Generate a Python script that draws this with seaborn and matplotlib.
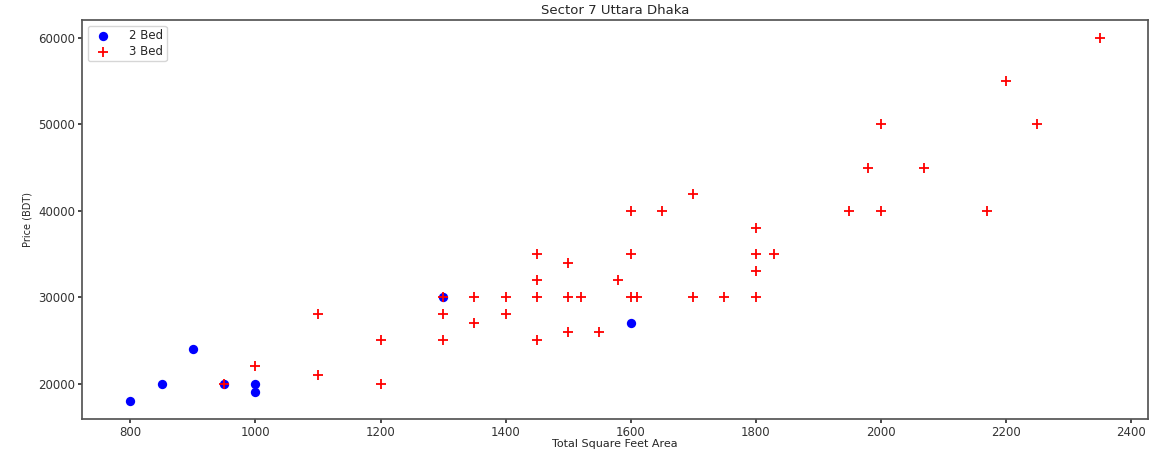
import seaborn as sns
import matplotlib.pyplot as plt
import pandas as pd

## values
bed2_sqft = [800, 850, 900, 950, 1000, 1000, 1300, 1600]
bed2_price = [18000, 20000, 24000, 20000, 20000, 19000, 30000, 27000]

bed3_sqft = [950, 1000, 1100, 1100, 1200, 1200, 1300, 1300, 1300, 1350,
             1350, 1400, 1400, 1450, 1450, 1450, 1450, 1500, 1500, 1500,
             1520, 1550, 1580, 1600, 1600, 1600, 1610, 1650, 1700, 1700,
             1750, 1800, 1800, 1800, 1800, 1830, 1950, 1980, 2000, 2000,
             2070, 2170, 2200, 2250, 2350]
bed3_price = [20000, 22000, 28000, 21000, 25000, 20000, 30000, 28000, 25000, 30000,
              27000, 30000, 28000, 35000, 32000, 30000, 25000, 34000, 30000, 26000,
              30000, 26000, 32000, 40000, 35000, 30000, 30000, 40000, 42000, 30000,
              30000, 38000, 35000, 33000, 30000, 35000, 40000, 45000, 50000, 40000,
              45000, 40000, 55000, 50000, 60000]

bed2 = pd.DataFrame({"total_sqft": bed2_sqft, "price": bed2_price})
bed3 = pd.DataFrame({"total_sqft": bed3_sqft, "price": bed3_price})

sns.set_theme(style="ticks")
plt.rcParams["font.family"] = ["DejaVu Sans"]

fig = plt.figure(figsize=(11.51, 4.49), dpi=100)
ax = fig.add_axes([0.0712, 0.0668, 0.9262, 0.8887])

sns.scatterplot(data=bed2, x="total_sqft", y="price", color="blue", marker="o",
                s=45, linewidth=0, label="2 Bed", ax=ax)
sns.scatterplot(data=bed3, x="total_sqft", y="price", color="red", marker="+",
                s=50, linewidth=1.3, label="3 Bed", ax=ax)

ax.set_title("Sector 7 Uttara Dhaka", fontsize=9.5, pad=4)
ax.set_xlabel("Total Square Feet Area", fontsize=8, labelpad=0)
ax.set_ylabel("Price (BDT)", fontsize=7, family=["Liberation Sans Narrow", "DejaVu Sans"])
ax.tick_params(labelsize=8.5, length=3, pad=2, colors="#333333")
for sp in ax.spines.values():
    sp.set_color("#555555")
ax.legend(loc="upper left", fontsize=8.5, markerscale=1, handletextpad=1.2,
          borderpad=0.3, labelspacing=0.2)

fig.savefig("out.png", dpi=100)
